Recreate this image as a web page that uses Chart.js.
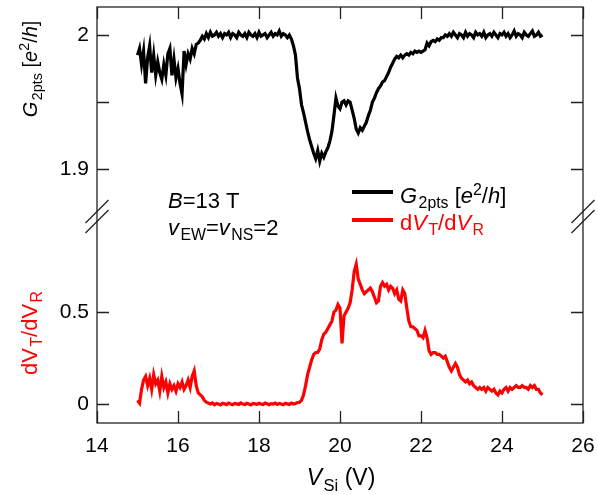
<!DOCTYPE html>
<html>
<head>
<meta charset="utf-8">
<script src="https://cdn.jsdelivr.net/npm/chart.js@4.4.1/dist/chart.umd.min.js"></script>
<style>
  body { margin: 0; background: #fff; }
  #wrap { width: 598px; height: 495px; }
</style>
</head>
<body>
<div id="wrap"><canvas id="chart" width="598" height="495"></canvas></div>
<script>
// gate voltage V_Si (V)
const vSi = [
  15.00, 15.05, 15.10, 15.15, 15.20, 15.25, 15.30, 15.35, 15.40, 15.45, 15.50, 15.55, 15.60, 15.65, 15.70, 15.75, 15.80, 15.85, 15.90, 15.95,
  16.00, 16.05, 16.10, 16.15, 16.20, 16.25, 16.30, 16.35, 16.40, 16.45, 16.50, 16.55, 16.60, 16.65, 16.70, 16.75, 16.80, 16.85, 16.90, 16.95,
  17.00, 17.05, 17.10, 17.15, 17.20, 17.25, 17.30, 17.35, 17.40, 17.45, 17.50, 17.55, 17.60, 17.65, 17.70, 17.75, 17.80, 17.85, 17.90, 17.95,
  18.00, 18.05, 18.10, 18.15, 18.20, 18.25, 18.30, 18.35, 18.40, 18.45, 18.50, 18.55, 18.60, 18.65, 18.70, 18.75, 18.80, 18.85, 18.90, 18.95,
  19.00, 19.05, 19.10, 19.15, 19.20, 19.25, 19.30, 19.35, 19.40, 19.45, 19.50, 19.55, 19.60, 19.65, 19.70, 19.75, 19.80, 19.85, 19.90, 19.95,
  20.00, 20.05, 20.10, 20.15, 20.20, 20.25, 20.30, 20.35, 20.40, 20.45, 20.50, 20.55, 20.60, 20.65, 20.70, 20.75, 20.80, 20.85, 20.90, 20.95,
  21.00, 21.05, 21.10, 21.15, 21.20, 21.25, 21.30, 21.35, 21.40, 21.45, 21.50, 21.55, 21.60, 21.65, 21.70, 21.75, 21.80, 21.85, 21.90, 21.95,
  22.00, 22.05, 22.10, 22.15, 22.20, 22.25, 22.30, 22.35, 22.40, 22.45, 22.50, 22.55, 22.60, 22.65, 22.70, 22.75, 22.80, 22.85, 22.90, 22.95,
  23.00, 23.05, 23.10, 23.15, 23.20, 23.25, 23.30, 23.35, 23.40, 23.45, 23.50, 23.55, 23.60, 23.65, 23.70, 23.75, 23.80, 23.85, 23.90, 23.95,
  24.00, 24.05, 24.10, 24.15, 24.20, 24.25, 24.30, 24.35, 24.40, 24.45, 24.50, 24.55, 24.60, 24.65, 24.70, 24.75, 24.80, 24.85, 24.90, 24.95,
  25.00
];

// two-point conductance G_2pts [e^2/h]
const g2pts = [
  1.985, 1.990, 1.978, 1.988, 1.964, 1.983, 1.992, 1.972, 1.985, 1.970, 1.980, 1.972, 1.967, 1.978, 1.970, 1.986, 1.990, 1.970, 1.982, 1.968,
  1.975, 1.964, 1.956, 1.988, 1.978, 1.986, 1.982, 1.990, 1.986, 1.993, 1.994, 1.996, 1.999, 1.997, 2.001, 1.998, 2.002, 1.999, 2.000, 2.002,
  1.999, 2.001, 1.998, 2.001, 2.000, 2.002, 1.998, 2.001, 2.000, 1.998, 2.002, 2.000, 1.999, 2.001, 1.998, 2.002, 2.000, 1.999, 2.001, 1.998,
  2.002, 1.999, 2.000, 2.001, 1.998, 2.000, 2.002, 1.999, 2.001, 2.000, 2.003, 1.999, 2.001, 2.000, 1.998, 2.000, 1.997, 1.992, 1.985, 1.968,
  1.960, 1.948, 1.942, 1.935, 1.928, 1.922, 1.917, 1.912, 1.908, 1.914, 1.906, 1.912, 1.909, 1.913, 1.916, 1.921, 1.928, 1.940, 1.953, 1.947,
  1.945, 1.950, 1.951, 1.948, 1.951, 1.950, 1.944, 1.938, 1.930, 1.927, 1.931, 1.929, 1.932, 1.935, 1.940, 1.944, 1.950, 1.953, 1.957, 1.960,
  1.962, 1.965, 1.966, 1.969, 1.972, 1.976, 1.979, 1.982, 1.984, 1.983, 1.985, 1.983, 1.985, 1.986, 1.985, 1.987, 1.986, 1.988, 1.987, 1.988,
  1.987, 1.988, 1.989, 1.994, 1.992, 1.995, 1.996, 1.995, 1.997, 1.996, 1.998, 1.998, 2.000, 1.999, 2.001, 1.999, 2.002, 2.000, 1.998, 2.001,
  2.000, 1.998, 2.002, 1.999, 2.001, 2.000, 1.998, 2.002, 2.000, 2.001, 1.999, 2.002, 1.998, 2.000, 2.001, 1.999, 2.002, 2.000, 1.998, 2.001,
  2.000, 2.002, 1.999, 2.001, 1.998, 2.000, 2.003, 1.999, 2.001, 2.000, 1.998, 2.002, 2.000, 1.999, 2.001, 2.003, 1.999, 2.000, 2.002, 1.999,
  2.000
];

// dV_T/dV_R
const dVratio = [
  0.02, 0.005, 0.08, 0.13, 0.15, 0.10, 0.14, 0.08, 0.16, 0.11, 0.13, 0.07, 0.15, 0.09, 0.12, 0.06, 0.11, 0.08, 0.10, 0.07,
  0.11, 0.09, 0.12, 0.08, 0.10, 0.13, 0.09, 0.15, 0.18, 0.10, 0.06, 0.05, 0.04, 0.02, 0.01, 0.005, 0.000, 0.006, -0.004, 0.003,
  0.000, -0.005, 0.004, 0.001, -0.003, 0.005, 0.000, -0.004, 0.003, 0.001, -0.002, 0.006, 0.000, -0.003, 0.004, 0.000, -0.005, 0.003, 0.001, -0.002,
  0.004, 0.000, -0.003, 0.005, 0.001, -0.004, 0.002, 0.000, 0.005, -0.002, 0.003, 0.000, -0.004, 0.004, 0.001, -0.002, 0.005, 0.000, 0.003, 0.008,
  0.01, 0.02, 0.05, 0.10, 0.16, 0.20, 0.24, 0.27, 0.28, 0.28, 0.30, 0.35, 0.38, 0.39, 0.41, 0.43, 0.45, 0.50, 0.51, 0.54,
  0.52, 0.33, 0.48, 0.50, 0.52, 0.55, 0.62, 0.72, 0.76, 0.68, 0.65, 0.62, 0.60, 0.61, 0.62, 0.63, 0.61, 0.58, 0.55, 0.56,
  0.64, 0.66, 0.64, 0.65, 0.62, 0.64, 0.63, 0.60, 0.62, 0.57, 0.56, 0.62, 0.60, 0.52, 0.45, 0.42, 0.42, 0.41, 0.40, 0.37,
  0.37, 0.36, 0.40, 0.36, 0.29, 0.27, 0.28, 0.28, 0.27, 0.27, 0.26, 0.25, 0.26, 0.23, 0.20, 0.18, 0.20, 0.22, 0.20, 0.16,
  0.14, 0.13, 0.12, 0.13, 0.11, 0.12, 0.10, 0.09, 0.08, 0.09, 0.08, 0.09, 0.07, 0.09, 0.08, 0.07, 0.08, 0.06, 0.05, 0.07,
  0.06, 0.08, 0.09, 0.07, 0.09, 0.08, 0.09, 0.10, 0.09, 0.09, 0.10, 0.09, 0.09, 0.08, 0.10, 0.09, 0.10, 0.08, 0.08, 0.06,
  0.05
];

const xTicks = [14, 16, 18, 20, 22, 24, 26];
const gTicks = [1.9, 1.95, 2];
const gLabelled = [1.9, 2];
const dTicks = [0, 0.5];

const FONT = "'Liberation Sans', Arial, sans-serif";
const FS = 21;   // tick labels

// draws text made of pieces (italic / subscript / superscript)
function drawRich(ctx, parts, x, y, size) {
    parts.forEach(p => {
        const s = (p.sub || p.sup) ? size * 0.72 : size;
        ctx.font = (p.it ? "italic " : "") + s + "px " + FONT;
        const dy = p.sub ? size * 0.24 : (p.sup ? -size * 0.38 : 0);
        if (p.sub) x += 1.5;
        ctx.fillText(p.t, x, y + dy);
        x += ctx.measureText(p.t).width;
    });
    return x;
}

function richWidth(ctx, parts, size) {
    let w = 0;
    parts.forEach(p => {
        const s = (p.sub || p.sup) ? size * 0.72 : size;
        ctx.font = (p.it ? "italic " : "") + s + "px " + FONT;
        w += ctx.measureText(p.t).width + (p.sub ? 1.5 : 0);
    });
    return w;
}

const gTitle = [
    { t: "G", it: true }, { t: "2pts", sub: true }, { t: " [" },
    { t: "e", it: true }, { t: "2", sup: true }, { t: "/" }, { t: "h", it: true }, { t: "]" }
];
const dTitle = [{ t: "dV" }, { t: "T", sub: true }, { t: "/dV" }, { t: "R", sub: true }];
const dLegend = [
    { t: "d" }, { t: "V", it: true }, { t: "T", sub: true },
    { t: "/d" }, { t: "V", it: true }, { t: "R", sub: true }
];
const xTitle = [{ t: "V", it: true }, { t: "Si", sub: true }, { t: " (V)" }];

const decor = {
    id: "decor",
    afterDraw(chart) {
        const ctx = chart.ctx;
        const a = chart.chartArea;
        const sx = chart.scales.x, sg = chart.scales.yG, sd = chart.scales.yD;
        ctx.save();
        ctx.strokeStyle = "#222";
        ctx.lineWidth = 1.3;
        ctx.strokeRect(a.left, a.top, a.right - a.left, a.bottom - a.top);

        // inward tick marks on all four sides
        ctx.beginPath();
        xTicks.forEach(v => {
            const px = Math.round(sx.getPixelForValue(v)) + 0.5;
            ctx.moveTo(px, a.bottom); ctx.lineTo(px, a.bottom - 12);
            ctx.moveTo(px, a.top); ctx.lineTo(px, a.top + 12);
        });
        [[sg, gTicks], [sd, dTicks]].forEach(([s, ticks]) => {
            ticks.forEach(v => {
                const py = Math.round(s.getPixelForValue(v)) + 0.5;
                ctx.moveTo(a.left, py); ctx.lineTo(a.left + 12, py);
                ctx.moveTo(a.right, py); ctx.lineTo(a.right - 12, py);
            });
        });
        ctx.stroke();

        // axis break marks
        const yb = sg.bottom;
        ctx.beginPath();
        [a.left, a.right].forEach(x0 => {
            [-3.5, 6.5].forEach(off => {
                ctx.moveTo(x0 - 11.5, yb + off + 11.5);
                ctx.lineTo(x0 + 11.5, yb + off - 11.5);
            });
        });
        ctx.stroke();

        ctx.textBaseline = "alphabetic";
        ctx.textAlign = "left";

        // axis titles
        ctx.fillStyle = "#000";
        ctx.save();
        ctx.translate(37, 69);
        ctx.rotate(-Math.PI / 2);
        drawRich(ctx, gTitle, -richWidth(ctx, gTitle, 20) / 2, 0, 20);
        ctx.restore();

        ctx.fillStyle = "#ff0000";
        ctx.save();
        ctx.translate(37, 333);
        ctx.rotate(-Math.PI / 2);
        drawRich(ctx, dTitle, -richWidth(ctx, dTitle, 22) / 2, 0, 22);
        ctx.restore();

        ctx.fillStyle = "#000";
        drawRich(ctx, xTitle, 341 - richWidth(ctx, xTitle, 23) / 2, 485, 23);

        // annotation
        drawRich(ctx, [{ t: "B", it: true }, { t: "=13 T" }], 168, 208, 22);
        drawRich(ctx, [
            { t: "v", it: true }, { t: "EW", sub: true }, { t: "=" },
            { t: "v", it: true }, { t: "NS", sub: true }, { t: "=2" }
        ], 168, 235, 22);

        // legend
        ctx.lineWidth = 4;
        ctx.strokeStyle = "#000";
        ctx.beginPath(); ctx.moveTo(352, 192); ctx.lineTo(393, 192); ctx.stroke();
        ctx.strokeStyle = "#ff0000";
        ctx.beginPath(); ctx.moveTo(352, 220); ctx.lineTo(393, 220); ctx.stroke();
        ctx.fillStyle = "#000";
        drawRich(ctx, gTitle, 400, 203, 22);
        ctx.fillStyle = "#ff0000";
        drawRich(ctx, dLegend, 400, 230, 22);
        ctx.restore();
    }
};

const tickFont = { family: FONT, size: FS };

// keep the plot frame fixed: no extra room for edge labels
function noPad(s) {
    s.paddingTop = 0; s.paddingBottom = 0; s.paddingLeft = 0; s.paddingRight = 0;
}

new Chart(document.getElementById("chart").getContext("2d"), {
    type: "line",
    data: {
        datasets: [
            {
                label: "G2pts",
                data: vSi.map((v, i) => ({ x: v, y: g2pts[i] })),
                yAxisID: "yG",
                borderColor: "#000000",
                borderWidth: 3.2,
                pointRadius: 0,
                tension: 0
            },
            {
                label: "dVT/dVR",
                data: vSi.map((v, i) => ({ x: v, y: dVratio[i] })),
                yAxisID: "yD",
                borderColor: "#ff0000",
                borderWidth: 3.2,
                pointRadius: 0,
                tension: 0
            }
        ]
    },
    options: {
        responsive: false,
        animation: false,
        layout: { autoPadding: false, padding: { top: 7, right: 15, left: 0, bottom: 0 } },
        plugins: { legend: { display: false }, tooltip: { enabled: false } },
        scales: {
            x: {
                type: "linear",
                min: 14,
                max: 26,
                grid: { display: false, drawTicks: false },
                border: { display: false },
                afterBuildTicks: s => { s.ticks = xTicks.map(v => ({ value: v })); },
                afterFit: s => { s.height = 72; noPad(s); },
                ticks: { font: tickFont, color: "#000", padding: 11, maxRotation: 0, autoSkip: false }
            },
            yG: {
                type: "linear",
                position: "left",
                stack: "panels",
                stackWeight: 1,
                weight: 2,
                min: 1.866,
                max: 2.0208,
                grid: { display: false, drawTicks: false },
                border: { display: false },
                afterBuildTicks: s => { s.ticks = gTicks.map(v => ({ value: v })); },
                afterFit: s => { s.width = 97; noPad(s); },
                ticks: {
                    font: tickFont, color: "#000", padding: 8,
                    callback: v => gLabelled.includes(v) ? String(v) : ""
                }
            },
            yD: {
                type: "linear",
                position: "left",
                stack: "panels",
                stackWeight: 1,
                weight: 1,
                min: -0.103,
                max: 1.027,
                grid: { display: false, drawTicks: false },
                border: { display: false },
                afterBuildTicks: s => { s.ticks = dTicks.map(v => ({ value: v })); },
                afterFit: s => { s.width = 97; noPad(s); },
                ticks: { font: tickFont, color: "#000", padding: 8, callback: v => String(v) }
            }
        }
    },
    plugins: [decor]
});
</script>
</body>
</html>
